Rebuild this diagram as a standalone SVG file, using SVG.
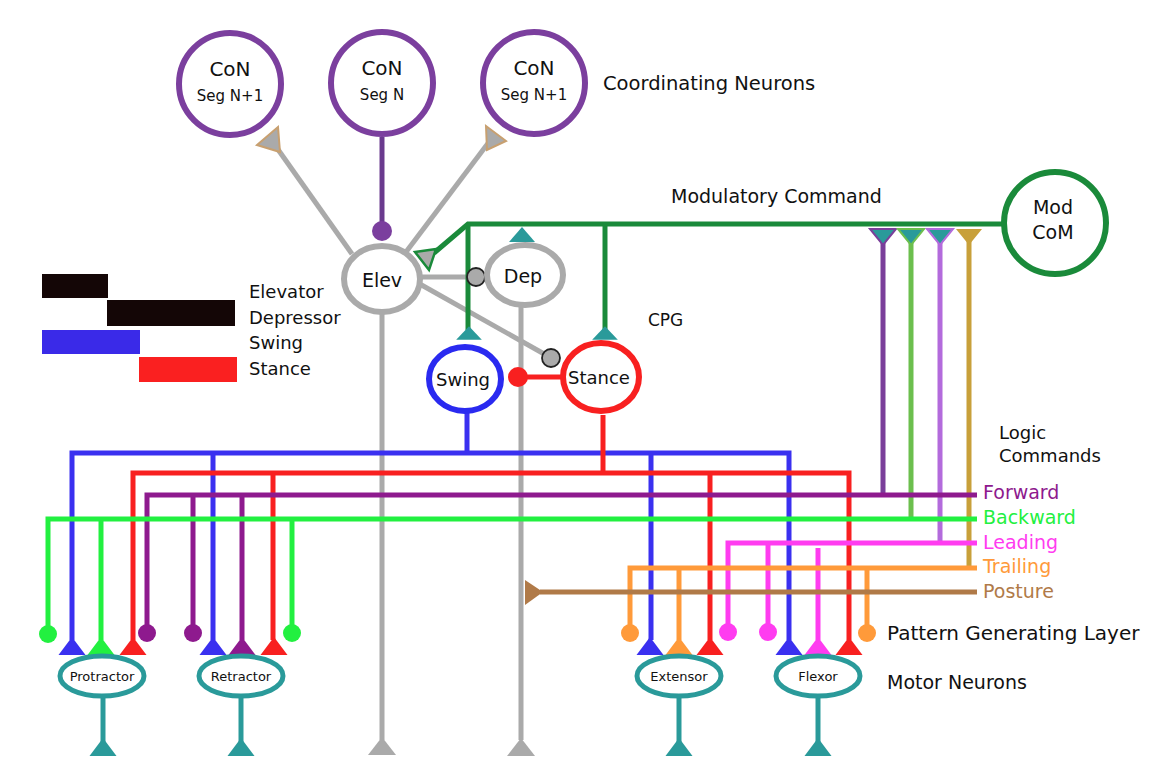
<svg xmlns="http://www.w3.org/2000/svg" width="1151" height="769" viewBox="0 0 1151 769">
<style>
text{font-family:"DejaVu Sans","Liberation Sans",sans-serif;fill:#111}
.lbl{font-size:18px}
.con{fill:#fff;stroke:#7b3f9e;stroke-width:6}
.g{fill:#fff;stroke:#aaaaaa;stroke-width:6}
.mn{fill:#fff;stroke:#2a9a9a;stroke-width:5}
.ln{fill:none;stroke-width:5;stroke-linecap:butt}
.gray{stroke:#aaaaaa}
.grn{stroke:#1a8a3a}
.blu{stroke:#3a30f0}
.red{stroke:#f82020}
.pur{stroke:#8e1a8e}
.lgr{stroke:#22f040}
.mag{stroke:#ff3cf0}
.org{stroke:#ff9a3a}
.brn{stroke:#b07a48}
.teal{stroke:#2a9a9a}
</style>
<defs>
<polygon id="tri" points="-13.5,9 13.5,9 0,-9"/>
<polygon id="dtri" points="-13,-8 13,-8 0,8"/>
</defs>

<g id="legend">
<rect x="42" y="274" width="66" height="24" fill="#140606"/>
<rect x="107" y="300" width="128" height="26" fill="#140606"/>
<rect x="42" y="330" width="98" height="24" fill="#3a2ae8"/>
<rect x="139" y="357" width="98" height="25" fill="#fa2020"/>
<text class="lbl" x="249" y="298">Elevator</text>
<text class="lbl" x="249" y="324">Depressor</text>
<text class="lbl" x="249" y="349">Swing</text>
<text class="lbl" x="249" y="375">Stance</text>
</g>

<g id="connectors">
<line class="ln gray" x1="352" y1="254" x2="272" y2="141"/>
<line class="ln gray" x1="406" y1="252" x2="492" y2="138"/>
<line class="ln" stroke="#6a3a8e" x1="382" y1="137" x2="382" y2="228"/>
<circle cx="382" cy="231" r="10" fill="#7b3f9e"/>
<polygon points="257,145 278,127 280,152" fill="#aaaaaa" stroke="#c8a070" stroke-width="2"/>
<polygon points="506,141 486,126 487,150" fill="#aaaaaa" stroke="#c8a070" stroke-width="2"/>
<line class="ln gray" x1="420" y1="277" x2="467" y2="277"/>
<line class="ln gray" x1="418" y1="283" x2="546" y2="355"/>
<line class="ln gray" x1="382" y1="312" x2="382" y2="740"/>
<line class="ln gray" x1="521" y1="306" x2="521" y2="740"/>
<polygon points="368,755 396,755 382,737" fill="#aaaaaa"/>
<polygon points="507,756 535,756 521,738" fill="#aaaaaa"/>
<polyline class="ln grn" points="1003,224 468,224 434,253"/>
<line class="ln grn" x1="468" y1="224" x2="468" y2="330"/>
<line class="ln grn" x1="605" y1="224" x2="605" y2="330"/>
<polygon points="415,252 436,249 429,270" fill="#aaaaaa" stroke="#1a8a3a" stroke-width="2.5"/>
<polygon points="509,242 535,242 522,227" fill="#2a9a9a"/>
<use href="#tri" transform="translate(469,333) scale(0.95,0.75)" fill="#2a9a9a"/>
<use href="#tri" transform="translate(605,333) scale(0.95,0.75)" fill="#2a9a9a"/>
<circle cx="476" cy="277" r="9" fill="#aaaaaa" stroke="#222" stroke-width="1.8"/>
<circle cx="551" cy="358" r="9" fill="#aaaaaa" stroke="#222" stroke-width="1.8"/>
<line class="ln red" x1="518" y1="377" x2="562" y2="377"/>
<circle cx="518" cy="377" r="10" fill="#f82020"/>
<line class="ln" stroke="#7a3f9a" x1="883" y1="240" x2="883" y2="495"/>
<line class="ln" stroke="#6cbf4e" x1="911" y1="240" x2="911" y2="519"/>
<line class="ln" stroke="#b36bdc" x1="940" y1="240" x2="940" y2="543"/>
<line class="ln" stroke="#c8a03a" x1="969" y1="240" x2="969" y2="570"/>
<use href="#dtri" transform="translate(883,237)" fill="#2a9a9a" stroke="#7a3f9a" stroke-width="2"/>
<use href="#dtri" transform="translate(911,237)" fill="#2a9a9a" stroke="#6cbf4e" stroke-width="2"/>
<use href="#dtri" transform="translate(940,237)" fill="#2a9a9a" stroke="#b36bdc" stroke-width="2"/>
<use href="#dtri" transform="translate(969,237)" fill="#c8a03a"/>
<polyline class="ln blu" points="467,411 467,453"/>
<polyline class="ln blu" points="72,640 72,453 789,453 789,640"/>
<line class="ln blu" x1="213" y1="453" x2="213" y2="640"/>
<line class="ln blu" x1="651" y1="453" x2="651" y2="640"/>
<line class="ln red" x1="603" y1="415" x2="603" y2="473"/>
<polyline class="ln red" points="133,640 133,473 849,473 849,640"/>
<line class="ln red" x1="273" y1="473" x2="273" y2="640"/>
<line class="ln red" x1="710" y1="473" x2="710" y2="640"/>
<polyline class="ln pur" points="147,630 147,495 977,495"/>
<line class="ln pur" x1="193" y1="495" x2="193" y2="630"/>
<line class="ln pur" x1="242" y1="495" x2="242" y2="640"/>
<polyline class="ln lgr" points="48,630 48,519 977,519"/>
<line class="ln lgr" x1="101" y1="519" x2="101" y2="640"/>
<line class="ln lgr" x1="292" y1="519" x2="292" y2="630"/>
<polyline class="ln mag" points="728,630 728,543 977,543"/>
<line class="ln mag" x1="768" y1="543" x2="768" y2="630"/>
<line class="ln mag" x1="818" y1="548" x2="818" y2="640"/>
<polyline class="ln org" points="630,630 630,568 977,568"/>
<line class="ln org" x1="679" y1="568" x2="679" y2="640"/>
<line class="ln org" x1="867" y1="568" x2="867" y2="630"/>
<line class="ln brn" x1="540" y1="592" x2="977" y2="592"/>
<polygon points="525,580 525,605 543,592" fill="#b07a48"/>
<circle cx="48" cy="634" r="9" fill="#22f040"/>
<use href="#tri" transform="translate(72,646)" fill="#3a30f0"/>
<use href="#tri" transform="translate(101,646)" fill="#22f040"/>
<use href="#tri" transform="translate(133,646)" fill="#f82020"/>
<circle cx="147" cy="633" r="9" fill="#8e1a8e"/>
<circle cx="193" cy="633" r="9" fill="#8e1a8e"/>
<use href="#tri" transform="translate(213,646)" fill="#3a30f0"/>
<use href="#tri" transform="translate(242,646)" fill="#8e1a8e"/>
<use href="#tri" transform="translate(274,646)" fill="#f82020"/>
<circle cx="292" cy="633" r="9" fill="#22f040"/>
<circle cx="630" cy="633" r="9" fill="#ff9a3a"/>
<use href="#tri" transform="translate(650,646)" fill="#3a30f0"/>
<use href="#tri" transform="translate(679,646)" fill="#ff9a3a"/>
<use href="#tri" transform="translate(710,646)" fill="#f82020"/>
<circle cx="728" cy="632" r="9" fill="#ff3cf0"/>
<circle cx="768" cy="632" r="9" fill="#ff3cf0"/>
<use href="#tri" transform="translate(789,646)" fill="#3a30f0"/>
<use href="#tri" transform="translate(818,646)" fill="#ff3cf0"/>
<use href="#tri" transform="translate(849,646)" fill="#f82020"/>
<circle cx="867" cy="633" r="9" fill="#ff9a3a"/>
<line class="ln teal" x1="103" y1="697" x2="103" y2="745"/>
<line class="ln teal" x1="241" y1="697" x2="241" y2="745"/>
<line class="ln teal" x1="679" y1="697" x2="679" y2="745"/>
<line class="ln teal" x1="818" y1="697" x2="818" y2="745"/>
<use href="#tri" transform="translate(103,747)" fill="#2a9a9a"/>
<use href="#tri" transform="translate(241,747)" fill="#2a9a9a"/>
<use href="#tri" transform="translate(679,747)" fill="#2a9a9a"/>
<use href="#tri" transform="translate(818,747)" fill="#2a9a9a"/>
</g>

<g id="con-left">
<circle class="con" cx="230" cy="84" r="51"/>
<text x="230" y="76" font-size="20" text-anchor="middle">CoN</text>
<text x="230" y="101" font-size="15" text-anchor="middle">Seg N+1</text>
</g>
<g id="con-mid">
<circle class="con" cx="382" cy="83" r="51"/>
<text x="382" y="75" font-size="20" text-anchor="middle">CoN</text>
<text x="382" y="100" font-size="15" text-anchor="middle">Seg N</text>
</g>
<g id="con-right">
<circle class="con" cx="534" cy="83" r="51"/>
<text x="534" y="75" font-size="20" text-anchor="middle">CoN</text>
<text x="534" y="100" font-size="15" text-anchor="middle">Seg N+1</text>
</g>

<g id="elev">
<ellipse class="g" cx="382" cy="279" rx="38" ry="33"/>
<text x="382" y="287" font-size="19" text-anchor="middle">Elev</text>
</g>
<g id="dep">
<ellipse class="g" cx="525" cy="275" rx="38" ry="30"/>
<text x="523" y="283" font-size="19" text-anchor="middle">Dep</text>
</g>
<g id="swing">
<ellipse cx="465" cy="379" rx="36" ry="32" fill="#fff" stroke="#2a2af0" stroke-width="6"/>
<text x="463" y="386" font-size="18" text-anchor="middle">Swing</text>
</g>
<g id="stance">
<ellipse cx="601" cy="377" rx="38" ry="34" fill="#fff" stroke="#f82020" stroke-width="6"/>
<text x="599" y="384" font-size="18" text-anchor="middle">Stance</text>
</g>
<g id="modcom">
<circle cx="1055" cy="223" r="51" fill="#fff" stroke="#1a8a3a" stroke-width="6"/>
<text x="1053" y="214" font-size="19" text-anchor="middle">Mod</text>
<text x="1053" y="239" font-size="19" text-anchor="middle">CoM</text>
</g>

<g id="protractor">
<ellipse class="mn" cx="102" cy="676" rx="42" ry="20"/>
<text x="102" y="681" font-size="13" text-anchor="middle">Protractor</text>
</g>
<g id="retractor">
<ellipse class="mn" cx="241" cy="676" rx="42" ry="20"/>
<text x="241" y="681" font-size="13" text-anchor="middle">Retractor</text>
</g>
<g id="extensor">
<ellipse class="mn" cx="679" cy="676" rx="42" ry="20"/>
<text x="679" y="681" font-size="13" text-anchor="middle">Extensor</text>
</g>
<g id="flexor">
<ellipse class="mn" cx="818" cy="676" rx="42" ry="20"/>
<text x="818" y="681" font-size="13" text-anchor="middle">Flexor</text>
</g>

<g id="labels">
<text x="603" y="90" font-size="19.5">Coordinating Neurons</text>
<text x="671" y="203" font-size="19">Modulatory Command</text>
<text x="648" y="326" font-size="17">CPG</text>
<text x="999" y="439" font-size="18">Logic</text>
<text x="999" y="462" font-size="18">Commands</text>
<text x="983" y="499" font-size="19" style="fill:#8e1a8e">Forward</text>
<text x="983" y="524" font-size="19" style="fill:#22f040">Backward</text>
<text x="983" y="549" font-size="19" style="fill:#ff3cf0">Leading</text>
<text x="983" y="573" font-size="19" style="fill:#ff9a3a">Trailing</text>
<text x="983" y="598" font-size="19" style="fill:#b07a48">Posture</text>
<text x="887" y="640" font-size="20">Pattern Generating Layer</text>
<text x="887" y="689" font-size="19">Motor Neurons</text>
</g>
</svg>
